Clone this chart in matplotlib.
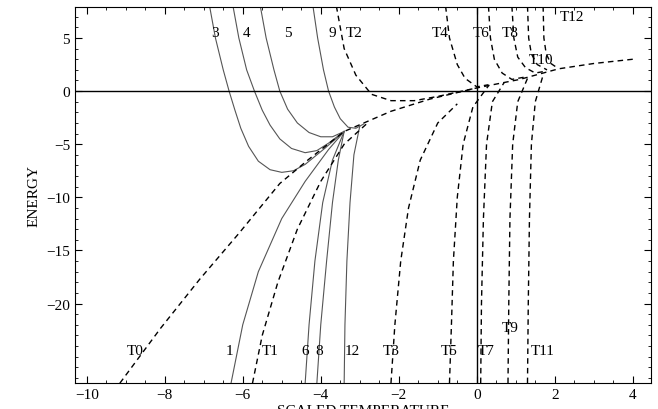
import matplotlib
matplotlib.use("Agg")
import matplotlib.pyplot as plt
from matplotlib.ticker import MultipleLocator

plt.rcParams['font.family'] = ['Liberation Serif', 'DejaVu Serif']

# envelope (T0)
T0 = [(-9.15,-27.5),(-8.1,-22.3),(-7.1,-17.7),(-6.1,-13.4),(-5.05,-8.7),(-4.3,-6.4),(-3.4,-3.8),
      (-2.2,-1.9),(-1.2,-0.75),(0,0.3),(1.1,1.1),(2.1,2.1),(3.0,2.6),(4,3.0)]
solid = {
 "3": [(-6.85,8),(-6.7,5),(-6.5,2),(-6.35,0),(-6.2,-1.8),(-6.05,-3.5),(-5.85,-5.2),(-5.6,-6.6),(-5.3,-7.4),(-5.0,-7.65),(-4.7,-7.5),(-4.4,-6.9),(-3.9,-5.4),(-3.4,-3.8)],
 "4": [(-6.25,8),(-6.1,5),(-5.9,2),(-5.7,0),(-5.5,-1.8),(-5.3,-3.2),(-5.05,-4.5),(-4.75,-5.4),(-4.4,-5.8),(-4.1,-5.6),(-3.8,-4.9),(-3.4,-3.8)],
 "5": [(-5.55,8),(-5.4,5),(-5.2,2),(-5.05,0),(-4.85,-1.7),(-4.6,-3.0),(-4.3,-3.9),(-4.0,-4.3),(-3.7,-4.3),(-3.4,-3.8)],
 "9": [(-4.2,8),(-4.08,5),(-3.93,2),(-3.8,0),(-3.65,-1.5),(-3.5,-2.6),(-3.3,-3.4),(-3.1,-3.5),(-2.9,-3.1)],
 "1": [(-6.3,-27.5),(-6.0,-22),(-5.6,-17),(-5.0,-12),(-4.4,-8.5),(-3.8,-5.5),(-3.4,-3.8)],
 "6": [(-4.4,-27.5),(-4.3,-22),(-4.15,-16),(-3.95,-10.5),(-3.7,-6.5),(-3.4,-3.8)],
 "8": [(-4.1,-27.5),(-4.0,-22),(-3.85,-16),(-3.7,-10.5),(-3.55,-6.5),(-3.4,-3.8)],
 "12": [(-3.4,-27.5),(-3.38,-22),(-3.33,-16),(-3.25,-10.5),(-3.15,-6),(-3.0,-3.3)],
}
dashed = {
 "T0": T0,
 "T1": [(-5.75,-27.5),(-5.5,-23),(-5.1,-18),(-4.6,-13),(-4.0,-8.5),(-3.4,-5),(-2.8,-3)],
 "T3": [(-2.2,-27.5),(-2.1,-22),(-1.95,-16),(-1.75,-11),(-1.45,-6.5),(-1.0,-3),(-0.5,-1.2)],
 "T5": [(-0.7,-27.5),(-0.65,-22),(-0.6,-16),(-0.5,-10),(-0.35,-5),(-0.1,-1.5),(0.3,0.5)],
 "T7": [(0.1,-27.5),(0.12,-20),(0.17,-12),(0.25,-5),(0.4,-1),(0.7,0.8)],
 "T9": [(0.8,-27.5),(0.82,-20),(0.85,-12),(0.92,-5),(1.05,-1),(1.3,1.2)],
 "T11": [(1.3,-27.5),(1.32,-20),(1.35,-12),(1.4,-5),(1.5,-1),(1.7,1.5)],
 "T2": [(-3.6,8),(-3.4,4),(-3.1,1.5),(-2.7,-0.3),(-2.2,-0.9),(-1.6,-0.9),(-1.0,-0.5),(-0.5,-0.1),(0,0.3)],
 "T4": [(-0.8,8),(-0.7,5),(-0.5,2.5),(-0.3,1.2),(0,0.4),(0.3,0.6)],
 "T6": [(0.3,8),(0.35,5),(0.45,3),(0.65,1.7),(0.9,1.1),(1.2,1.3)],
 "T8": [(0.9,8),(0.95,5),(1.05,3.2),(1.25,2.2),(1.5,1.7),(1.8,1.9)],
 "T10": [(1.3,8),(1.33,5),(1.4,3.5),(1.55,2.5),(1.8,2.0)],
 "T12": [(1.7,8),(1.72,5),(1.78,3.5),(1.9,2.6),(2.1,2.1)],
}
labels = [("3",-6.7,5.5),("4",-5.9,5.5),("5",-4.85,5.5),("9",-3.7,5.5),("T2",-3.15,5.5),
          ("T4",-0.95,5.5),("T6",0.1,5.5),("T8",0.85,5.5),("T10",1.65,3.0),("T12",2.45,7.0),
          ("T0",-8.75,-24.4),("1",-6.35,-24.4),("T1",-5.3,-24.4),("6",-4.4,-24.4),("8",-4.05,-24.4),
          ("12",-3.2,-24.4),("T3",-2.2,-24.4),("T5",-0.7,-24.4),("T7",0.25,-24.4),
          ("T9",0.85,-22.3),("T11",1.7,-24.4)]

fig = plt.figure(figsize=(6.58,4.10), dpi=100)
ax = fig.add_axes([0.114,0.063,0.875,0.917])
for k,pts in solid.items():
    ax.plot([p[0] for p in pts],[p[1] for p in pts], color='#555555', lw=0.8)
for k,pts in dashed.items():
    ax.plot([p[0] for p in pts],[p[1] for p in pts], color='black', lw=1.0, ls=(0,(4,3)))
ax.axhline(0,color='black',lw=1)
ax.axvline(0,color='black',lw=1)
for t,x,y in labels:
    ax.text(x,y,t,ha='center',va='center',fontsize=11)
ax.set_xlim(-10.3,4.46)
ax.set_ylim(-27.5,7.9)
ax.set_xticks([-10,-8,-6,-4,-2,0,2,4])
ax.set_xticklabels(["\u221210","\u22128","\u22126","\u22124","\u22122","0","2","4"])
ax.set_yticks([-20,-15,-10,-5,0,5])
ax.set_yticklabels(["\u221220","\u221215","\u221210","\u22125","0","5"])
ax.xaxis.set_minor_locator(MultipleLocator(0.5))
ax.yaxis.set_minor_locator(MultipleLocator(1))
ax.tick_params(which='both',direction='in',top=True,right=True,labelsize=11)
ax.tick_params(which='major',length=5)
ax.tick_params(which='minor',length=2.5)
ax.set_xlabel("SCALED TEMPERATURE",fontsize=11,labelpad=2)
ax.set_ylabel("ENERGY",fontsize=11)
fig.savefig("out.png",dpi=100)
